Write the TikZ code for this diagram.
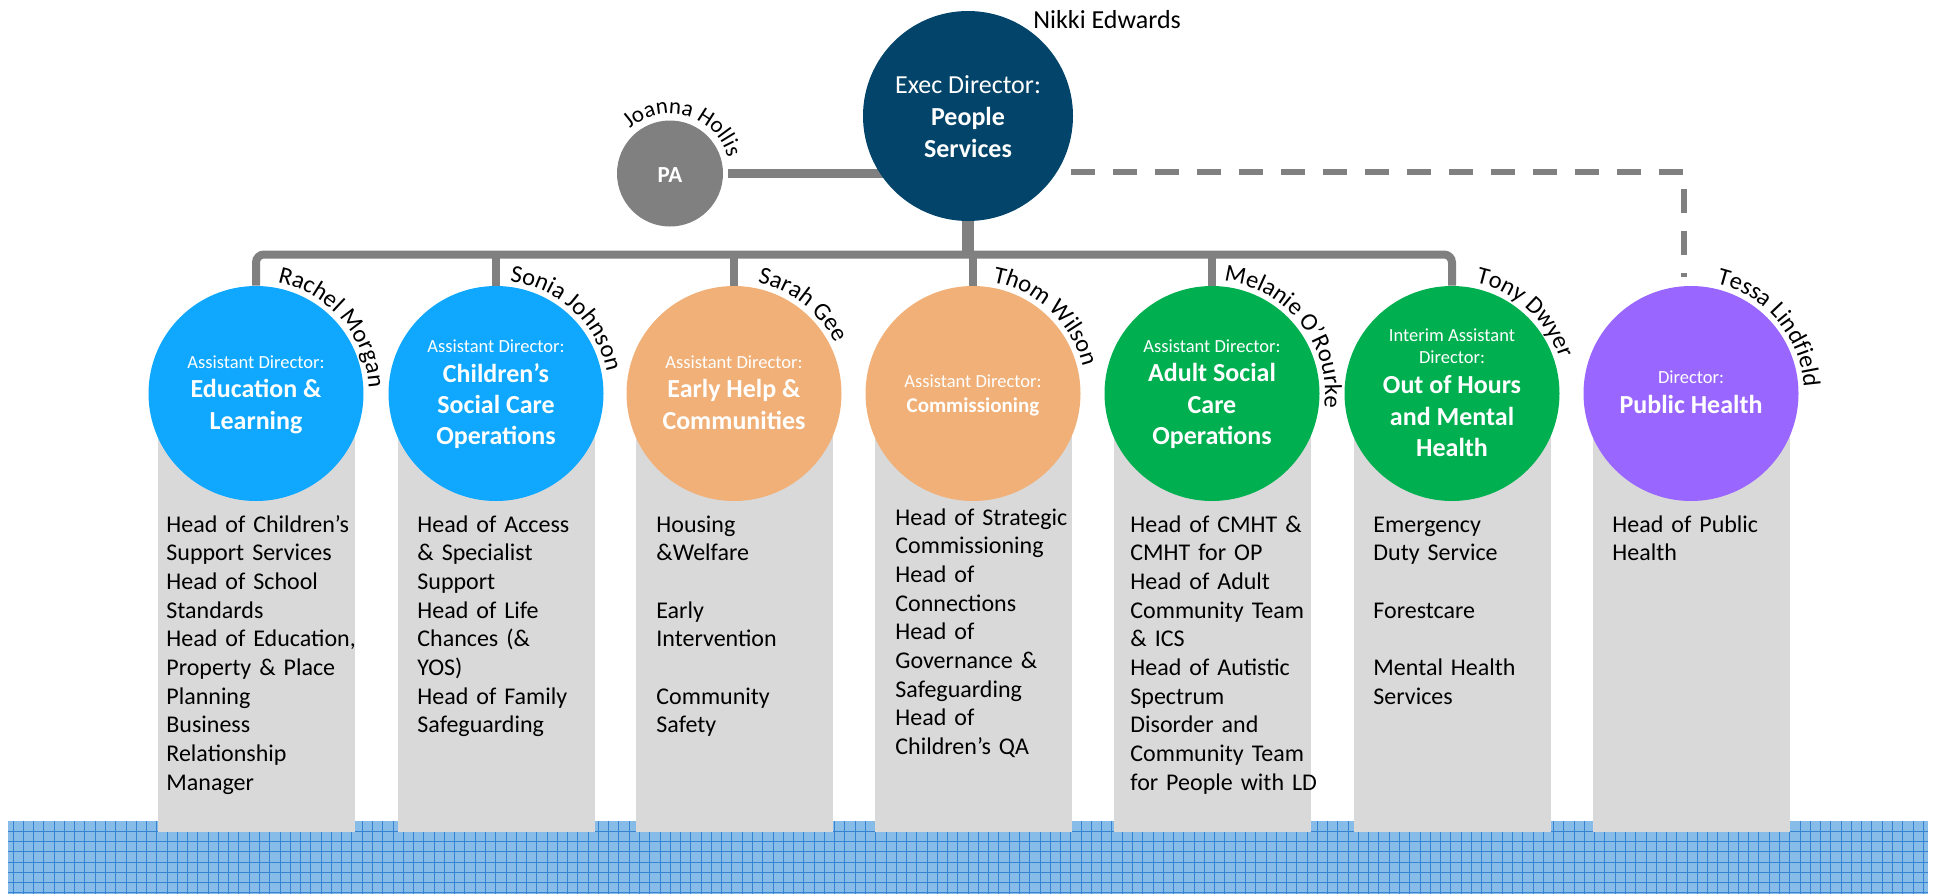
\documentclass[tikz,border=0pt]{standalone}
\usepackage{fontspec}
\setmainfont{Carlito}
\usetikzlibrary{decorations.text}
\definecolor{cnavy}{HTML}{03446A}
\definecolor{cgray}{HTML}{808080}
\definecolor{cblue}{HTML}{0FA8FE}
\definecolor{corange}{HTML}{F1B077}
\definecolor{cgreen}{HTML}{00B050}
\definecolor{cpurple}{HTML}{9966FF}
\definecolor{cbox}{HTML}{D9D9D9}
\definecolor{bandfill}{HTML}{88BCE8}
\definecolor{bandline}{HTML}{3584D2}
\pgfdeclarelayer{bg}
\pgfsetlayers{bg,main}
\newcommand\cfsmall{\fontsize{9.25}{11}\selectfont}
\newcommand\cfbold{\fontsize{13}{16}\selectfont\bfseries}
\newcommand\cfcomm{\fontsize{10.5}{12}\selectfont\bfseries}
\newcommand\cfexec{\fontsize{13}{16}\selectfont}
\newcommand\cfpa{\fontsize{11.5}{14}\selectfont\bfseries}
\newcommand\cfname{\fontsize{12.25}{14}\selectfont}
\newcommand\cfjo{\fontsize{11.5}{14}\selectfont}
\newcommand\ctxt[5]{\node[ctext, font=#4] (#1) at ([yshift={-0.5pt*(#3)}]#2.center) {#5};}
\newcommand\nmarc[3]{\path[decorate, decoration={text along path, text={|\cfname|#3}, text align=left}] ([shift={(#2:56.5pt)}]#1.center) arc[start angle=#2, end angle={#2-180}, radius=56.5pt];}
\begin{document}
\begin{tikzpicture}[x=0.5pt,y=0.5pt,
  circ/.style={circle, inner sep=0pt, minimum size=107.5pt, draw=none},
  greybox/.style={rectangle, fill=cbox, draw=none, minimum width=98.5pt, minimum height=206pt, inner sep=0pt},
  body/.style={font=\fontsize{12}{14.35}\selectfont, text width=95pt, align=left, inner sep=0pt, anchor=base west},
  ctext/.style={text=white, inner sep=0pt, anchor=base},
  conn/.style={draw=cgray, line width=4pt},
  gridln/.style={draw=bandline, line width=0.45pt}]
\useasboundingbox (0,0) rectangle (1933,-894);

% band
\fill[bandfill] (8,-821) rectangle (1928,-894);
\begin{scope}
\clip (8,-821) rectangle (1928,-894);
\foreach \i in {0,...,187} \draw[gridln] ({13+10.27*\i},-821) -- ++(0,-73);
\foreach \j in {1,...,7} \draw[gridln] (8,{-821-10.27*\j}) -- (1928,{-821-10.27*\j});
\end{scope}

% grey boxes
\node[greybox] (b1) at (256,-626) {};
\node[greybox] (b2) at (496,-626) {};
\node[greybox] (b3) at (734,-626) {};
\node[greybox] (b4) at (973,-626) {};
\node[greybox] (b5) at (1212,-626) {};
\node[greybox] (b6) at (1452,-626) {};
\node[greybox] (b7) at (1691,-626) {};

% circles
\node[circ, minimum size=105pt, fill=cnavy] (exec) at (968,-116) {};
\node[circ, minimum size=53pt, fill=cgray] (pa) at (670,-173.5) {};
\node[circ, fill=cblue] (c1) at (256,-393.5) {};
\node[circ, fill=cblue] (c2) at (496,-393.5) {};
\node[circ, fill=corange] (c3) at (734,-393.5) {};
\node[circ, fill=corange] (c4) at (973,-393.5) {};
\node[circ, fill=cgreen] (c5) at (1212,-393.5) {};
\node[circ, fill=cgreen] (c6) at (1452,-393.5) {};
\node[circ, fill=cpurple] (c7) at (1691,-393.5) {};

% connectors
\begin{pgfonlayer}{bg}
\coordinate (bar) at (0,-254.5);
\draw[conn, rounded corners=4pt] (c1.north) -- (c1.north |- bar) -- (c6.north |- bar) -- (c6.north);
\foreach \cn in {c2,c3,c4,c5} \draw[conn] (\cn.north) -- (\cn.north |- bar);
\draw[conn, line width=6pt] (exec.south) -- (exec.south |- bar);
\draw[conn, line width=4.25pt] ([xshift=2.5pt]pa.east) -- (exec.center |- pa.east);
\draw[conn, line width=3pt, dash pattern=on 12pt off 9pt] ([xshift=7pt]exec.-32) -- ([xshift=-3.5pt]c7.north |- exec.-32) -- ([xshift=-3.5pt,yshift=4.5pt]c7.north);
\end{pgfonlayer}

% circle texts
\ctxt{ex1}{exec}{-23}{\cfexec}{Exec Director:}
\ctxt{ex2}{exec}{9}{\cfbold}{People}
\ctxt{ex3}{exec}{41}{\cfbold}{Services}
\ctxt{pat}{pa}{8.5}{\cfpa}{PA}
\ctxt{t11}{c1}{-25.5}{\cfsmall}{Assistant Director:}
\ctxt{t12}{c1}{3.5}{\cfbold}{Education \&}
\ctxt{t13}{c1}{35.5}{\cfbold}{Learning}
\ctxt{t21}{c2}{-41.5}{\cfsmall}{Assistant Director:}
\ctxt{t22}{c2}{-11.5}{\cfbold}{Children’s}
\ctxt{t23}{c2}{19.5}{\cfbold}{Social Care}
\ctxt{t24}{c2}{50.5}{\cfbold}{Operations}
\ctxt{t31}{c3}{-25.5}{\cfsmall}{Assistant Director:}
\ctxt{t32}{c3}{3.5}{\cfbold}{Early Help \&}
\ctxt{t33}{c3}{35.5}{\cfbold}{Communities}
\ctxt{t41}{c4}{-6.5}{\cfsmall}{Assistant Director:}
\ctxt{t42}{c4}{18.5}{\cfcomm}{Commissioning}
\ctxt{t51}{c5}{-41.5}{\cfsmall}{Assistant Director:}
\ctxt{t52}{c5}{-12.5}{\cfbold}{Adult Social}
\ctxt{t53}{c5}{19.5}{\cfbold}{Care}
\ctxt{t54}{c5}{50.5}{\cfbold}{Operations}
\ctxt{t61}{c6}{-52.5}{\cfsmall}{Interim Assistant}
\ctxt{t62}{c6}{-30.5}{\cfsmall}{Director:}
\ctxt{t63}{c6}{-0.5}{\cfbold}{Out of Hours}
\ctxt{t64}{c6}{31.5}{\cfbold}{and Mental}
\ctxt{t65}{c6}{62.5}{\cfbold}{Health}
\ctxt{t71}{c7}{-10.5}{\cfsmall}{Director:}
\ctxt{t72}{c7}{19.5}{\cfbold}{Public Health}

% box texts
\node[body] (x1) at (166,-532) {Head of Children’s\\Support Services\\Head of School\\Standards\\Head of Education,\\Property \& Place\\Planning\\Business\\Relationship\\Manager};
\node[body] (x2) at (417,-532) {Head of Access\\\& Specialist\\Support\\Head of Life\\Chances (\&\\YOS)\\Head of Family\\Safeguarding};
\node[body] (x3) at (656,-532) {Housing\\\&Welfare\\[14.35pt]Early\\Intervention\\[14.35pt]Community\\Safety};
\node[body] (x4) at (895,-525) {Head of Strategic\\Commissioning\\Head of\\Connections\\Head of\\Governance \&\\Safeguarding\\Head of\\Children’s QA};
\node[body] (x5) at (1130,-532) {Head of CMHT \&\\CMHT for OP\\Head of Adult\\Community Team\\\& ICS\\Head of Autistic\\Spectrum\\Disorder and\\Community Team\\for People with LD};
\node[body] (x6) at (1373,-532) {Emergency\\Duty Service\\[14.35pt]Forestcare\\[14.35pt]Mental Health\\Services};
\node[body] (x7) at (1612,-532) {Head of Public\\Health};

% names
\node[anchor=base west, inner sep=0pt, font=\fontsize{13}{15}\selectfont] (nikki) at (1033,-28.3) {Nikki Edwards};
\path[decorate, decoration={text along path, text={|\cfjo|Joanna Hollis}, text align=left}] ([shift={(132:30pt)}]pa.center) arc[start angle=132, end angle=-60, radius=30pt];
\nmarc{c1}{79}{Rachel Morgan}
\nmarc{c2}{83}{Sonia Johnson}
\nmarc{c3}{78}{Sarah Gee}
\nmarc{c4}{80}{Thom Wilson}
\nmarc{c5}{84}{Melanie O'Rourke}
\nmarc{c6}{78}{Tony Dwyer}
\nmarc{c7}{77}{Tessa Lindfield}
\end{tikzpicture}
\end{document}
